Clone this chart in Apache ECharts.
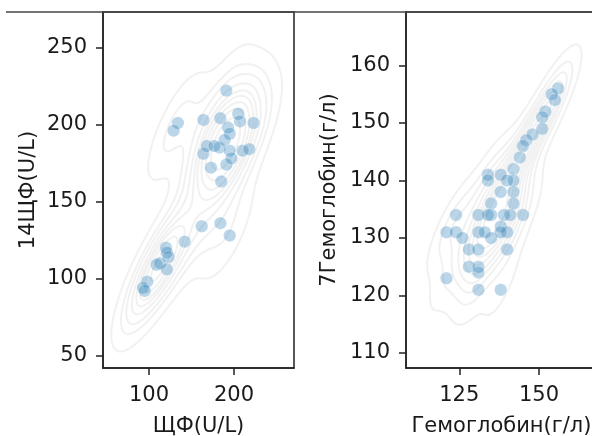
<!DOCTYPE html>
<html><head><meta charset="utf-8">
<script src="https://cdn.jsdelivr.net/npm/echarts@6/dist/echarts.min.js"></script>
<style>html,body{margin:0;padding:0;background:#fff}#c{width:592px;height:436px}</style>
</head><body><div id="c"></div>
<script>
// ---- data ----
const leftX = [191,134,129,164,184,205,207,223,193,195,189,183,164,168,173,195,210,218,191,185,177,197,162,184,195,142,120,121,123,109,113,121,98,93,95];
const leftY = [222,201,196,203,204,207,202,201,198,194,190,185,181,186,172,183,183,184,174,163,186,178,134,136,128,124,120,117,114,109,110,106,98,94,92];
const rightX = [156,154,155,152,151,151,146,148,145,144,142,134,134,138,140,142,138,142,142,135,135,124,131,134,139,141,145,138,140,121,124,126,131,133,135,138,128,131,140,128,131,131,121,131,138];
const rightY = [156,155,154,152,151,149,147,148,146,144,142,141,140,141,140,140,138,138,136,136,134,134,134,134,134,134,134,132,131,131,131,130,131,131,130,131,128,128,128,125,125,124,123,121,121];
const leftXTicks = [100, 200];
const leftYTicks = [50, 100, 150, 200, 250];
const rightXTicks = [125, 150];
const rightYTicks = [110, 120, 130, 140, 150, 160];
const leftXName = 'ЩФ(U/L)';
const leftYName = '14ЩФ(U/L)';
const rightXName = 'Гемоглобин(г/л)';
const rightYName = '7Гемоглобин(г/л)';

// ---- Gaussian KDE (Scott bandwidth) + iso-proportion contours, as seaborn kdeplot ----
function kdeContours(xs, ys, G, nLevels, thresh) {
  const n = xs.length;
  const mx = xs.reduce((a,b)=>a+b,0)/n, my = ys.reduce((a,b)=>a+b,0)/n;
  let sxx=0, syy=0, sxy=0;
  for (let i=0;i<n;i++){const dx=xs[i]-mx, dy=ys[i]-my; sxx+=dx*dx; syy+=dy*dy; sxy+=dx*dy;}
  sxx/=(n-1); syy/=(n-1); sxy/=(n-1);
  const f = Math.pow(n, -1/6);
  const a = sxx*f*f, b = sxy*f*f, c = syy*f*f;
  const det = a*c-b*b;
  const ia = c/det, ib = -b/det, ic = a/det;
  const norm = 1/(2*Math.PI*Math.sqrt(det)*n);
  const bx = Math.sqrt(a), by = Math.sqrt(c);
  const x0 = Math.min(...xs)-3*bx, x1 = Math.max(...xs)+3*bx;
  const y0 = Math.min(...ys)-3*by, y1 = Math.max(...ys)+3*by;
  const gx = [], gy = [];
  for (let i=0;i<G;i++){gx.push(x0+(x1-x0)*i/(G-1)); gy.push(y0+(y1-y0)*i/(G-1));}
  const z = [];
  const all = [];
  for (let j=0;j<G;j++){
    const row=[];
    for (let i=0;i<G;i++){
      let s=0;
      for (let k=0;k<n;k++){
        const dx=gx[i]-xs[k], dy=gy[j]-ys[k];
        s+=Math.exp(-0.5*(dx*dx*ia+2*dx*dy*ib+dy*dy*ic));
      }
      row.push(s*norm); all.push(s*norm);
    }
    z.push(row);
  }
  const sorted = all.slice().sort((p,q)=>q-p);
  const total = sorted.reduce((p,q)=>p+q,0);
  const cum = []; let acc=0;
  for (const v of sorted){acc+=v; cum.push(acc/total);}
  const levels=[];
  for (let l=0;l<nLevels;l++){
    const q = thresh + (1-thresh)*l/(nLevels-1);
    const target = 1-q;
    let idx = 0;
    while (idx<cum.length && cum[idx]<target) idx++;
    levels.push(sorted[Math.min(idx, sorted.length-1)]);
  }
  const result=[];
  for (const L of levels){
    const pts = new Map();
    const segs = [];
    const interp=(k, xa, ya, va, xb, yb, vb)=>{
      if(!pts.has(k)){const t=(L-va)/(vb-va); pts.set(k,[xa+(xb-xa)*t, ya+(yb-ya)*t]);}
      return k;
    };
    for (let j=0;j<G-1;j++){
      for (let i=0;i<G-1;i++){
        const v0=z[j][i], v1=z[j][i+1], v2=z[j+1][i+1], v3=z[j+1][i];
        const code=(v0>L?1:0)|(v1>L?2:0)|(v2>L?4:0)|(v3>L?8:0);
        if(code===0||code===15) continue;
        const E=[
          ()=>interp('h'+i+','+j, gx[i],gy[j],v0, gx[i+1],gy[j],v1),
          ()=>interp('v'+(i+1)+','+j, gx[i+1],gy[j],v1, gx[i+1],gy[j+1],v2),
          ()=>interp('h'+i+','+(j+1), gx[i],gy[j+1],v3, gx[i+1],gy[j+1],v2),
          ()=>interp('v'+i+','+j, gx[i],gy[j],v0, gx[i],gy[j+1],v3)
        ];
        let pairs;
        const center=(v0+v1+v2+v3)/4;
        switch(code){
          case 1: case 14: pairs=[[3,0]]; break;
          case 2: case 13: pairs=[[0,1]]; break;
          case 3: case 12: pairs=[[3,1]]; break;
          case 4: case 11: pairs=[[1,2]]; break;
          case 6: case 9: pairs=[[0,2]]; break;
          case 7: case 8: pairs=[[3,2]]; break;
          case 5: pairs = center>L ? [[0,1],[3,2]] : [[3,0],[1,2]]; break;
          case 10: pairs = center>L ? [[3,0],[1,2]] : [[0,1],[3,2]]; break;
        }
        for (const p of pairs) segs.push([E[p[0]](), E[p[1]]()]);
      }
    }
    const adj=new Map();
    segs.forEach((s,idx)=>{for(const k of s){if(!adj.has(k))adj.set(k,[]);adj.get(k).push(idx);}});
    const used=new Array(segs.length).fill(false);
    for (let s=0;s<segs.length;s++){
      if(used[s]) continue;
      used[s]=true;
      const line=[segs[s][0], segs[s][1]];
      for (let dir=0; dir<2; dir++){
        while(true){
          const last = dir===0? line[line.length-1] : line[0];
          const cand=(adj.get(last)||[]).find(t=>!used[t]);
          if(cand===undefined) break;
          used[cand]=true;
          const nxt = segs[cand][0]===last? segs[cand][1] : segs[cand][0];
          if(dir===0) line.push(nxt); else line.unshift(nxt);
        }
      }
      if(line.length>2) result.push({coords: line.map(k=>pts.get(k))});
    }
  }
  return result;
}

const leftContours = kdeContours(leftX, leftY, 150, 10, 0.05);
const rightContours = kdeContours(rightX, rightY, 150, 10, 0.05);

const FONT = 'DejaVu Sans';
const TXT = '#1a1a1a';
const SP = '#222';
const FS = 21;
function xAx(grid, min, max, ticks, name){
  return {gridIndex:grid, type:'value', min:min, max:max,
    axisLine:{show:true, onZero:false, lineStyle:{color:SP, width:1.5}},
    axisTick:{show:true, length:7, customValues:ticks, lineStyle:{color:SP, width:1.5}},
    axisLabel:{customValues:ticks, margin:17, color:TXT, fontFamily:FONT, fontSize:FS},
    splitLine:{show:false},
    name:name, nameLocation:'middle', nameGap:48,
    nameTextStyle:{color:TXT, fontFamily:FONT, fontSize:FS}};
}
function yAx(grid, min, max, ticks, name, gap){
  return {gridIndex:grid, type:'value', min:min, max:max,
    axisLine:{show:true, onZero:false, lineStyle:{color:SP, width:1.5}},
    axisTick:{show:true, length:7, customValues:ticks, lineStyle:{color:SP, width:1.5}},
    axisLabel:{customValues:ticks, margin:16, color:TXT, fontFamily:FONT, fontSize:FS},
    splitLine:{show:false},
    name:name, nameLocation:'middle', nameGap:gap,
    nameTextStyle:{color:TXT, fontFamily:FONT, fontSize:FS}};
}
const contourStyle = {color:'rgba(128,128,128,0.22)', width:2};
const pointStyle = {color:'#1f77b4', opacity:0.3, borderColor:'#ffffff', borderWidth:0.8};

const chart = echarts.init(document.getElementById('c'), null, {renderer:'canvas'});
chart.setOption({
  animation:false,
  backgroundColor:'#fff',
  grid:[
    {left:103, top:12, width:191, height:356, show:true, borderColor:SP, borderWidth:1.5, backgroundColor:'transparent', outerBoundsMode:'none', containLabel:false},
    {left:406, top:12, width:191, height:356, show:true, borderColor:SP, borderWidth:1.5, backgroundColor:'transparent', outerBoundsMode:'none', containLabel:false}
  ],
  xAxis:[xAx(0, 45.9, 270.6, leftXTicks, leftXName), xAx(1, 108.3, 168.2, rightXTicks, rightXName)],
  yAxis:[yAx(0, 42, 273, leftYTicks, leftYName, 64), yAx(1, 107.4, 169.3, rightYTicks, rightYName, 66)],
  graphic:[{type:'line', shape:{x1:6, y1:12, x2:592, y2:12}, style:{stroke:'#444', lineWidth:1.5}, z:100}],
  series:[
    {type:'lines', coordinateSystem:'cartesian2d', xAxisIndex:0, yAxisIndex:0, polyline:true, clip:true, silent:true, data:leftContours, lineStyle:contourStyle, z:1},
    {type:'lines', coordinateSystem:'cartesian2d', xAxisIndex:1, yAxisIndex:1, polyline:true, clip:true, silent:true, data:rightContours, lineStyle:contourStyle, z:1},
    {type:'scatter', xAxisIndex:0, yAxisIndex:0, symbolSize:12.5, data:leftX.map((v,i)=>[v,leftY[i]]), itemStyle:pointStyle, z:2},
    {type:'scatter', xAxisIndex:1, yAxisIndex:1, symbolSize:12.5, data:rightX.map((v,i)=>[v,rightY[i]]), itemStyle:pointStyle, z:2}
  ]
});
</script></body></html>
